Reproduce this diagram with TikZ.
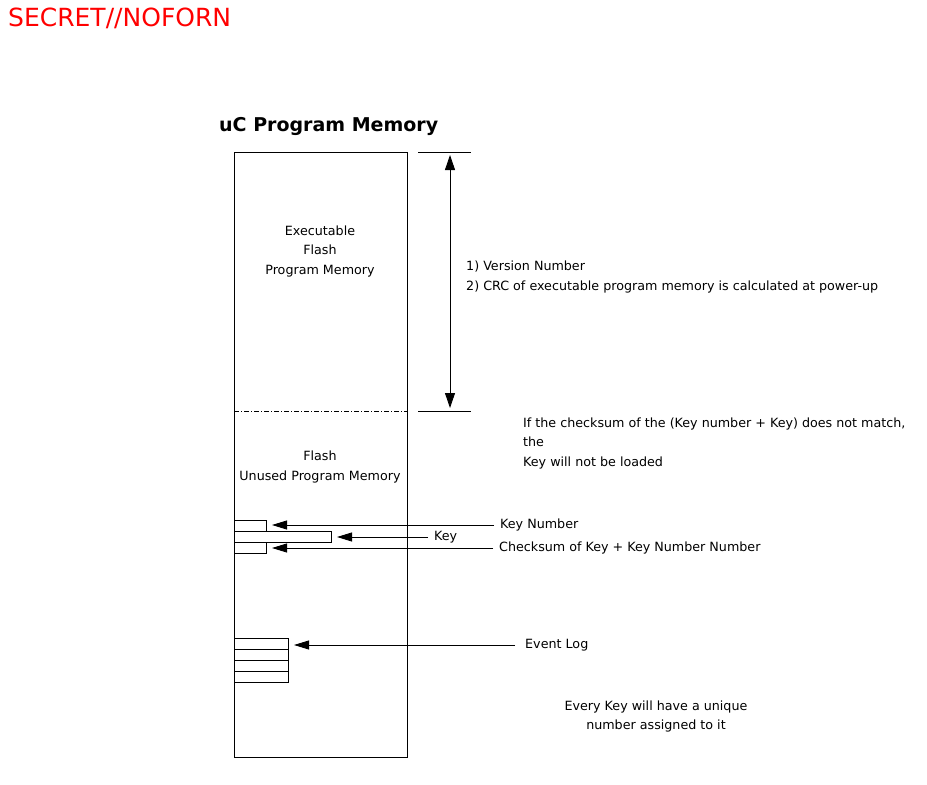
\documentclass[tikz,border=0pt]{standalone}
\usepackage{fontspec}
\setmainfont{DejaVu Sans}
\usepackage{tikz}
\usetikzlibrary{arrows.meta, positioning}
\definecolor{secretred}{HTML}{FF0000}

\begin{document}
\begin{tikzpicture}[x=1bp, y=-1bp,
  txt/.style={font=\fontsize{12.7bp}{19.5bp}\selectfont, inner sep=0pt},
  pointer/.style={draw, line width=0.9bp, -{Triangle[length=15bp, width=9bp]}},
  span/.style={draw, line width=0.9bp,
               {Triangle[length=15bp, width=10bp]}-{Triangle[length=15bp, width=10bp]}},
  cell/.style={draw, line width=0.9bp, anchor=north west, inner sep=0pt,
               outer sep=0pt, minimum height=11bp},
  divider/.style={draw, line width=0.9bp, dash pattern=on 5bp off 2bp on 1bp off 2bp},
  tick/.style={draw, line width=0.9bp},
]
  \useasboundingbox (0,0) rectangle (927,785);

  % Banner and title
  \node[txt, anchor=west, font=\fontsize{25bp}{30bp}\selectfont, text=secretred] (banner) at (8,18) {SECRET//NOFORN};
  \node[txt, anchor=west, font=\bfseries\fontsize{19bp}{23bp}\selectfont] (title) at (219,126) {uC Program Memory};

  % Program memory block
  \node[draw, line width=0.9bp, anchor=north west, inner sep=0pt, outer sep=0pt,
        minimum width=173bp, minimum height=605bp] (mem) at (234,152) {};
  \coordinate (divL) at (234,411);
  \coordinate (divR) at (407,411);
  \draw[divider] (divL) -- (divR);

  \node[txt, align=center] (execlbl) at (320,251) {Executable\\Flash\\Program Memory};
  \node[txt, align=center] (unusedlbl) at (320,467) {Flash\\Unused Program Memory};

  % Extent of executable region
  \coordinate (topA) at (418,152);
  \coordinate (topB) at (471,152);
  \coordinate (botA) at (418,411);
  \coordinate (botB) at (471,411);
  \coordinate (spanT) at (450,152);
  \coordinate (spanB) at (450,411);
  \draw[tick] (topA) -- (topB);
  \draw[tick] (botA) -- (botB);
  \draw[span, shorten <=3bp, shorten >=3bp] (spanT) -- (spanB);

  \node[txt, align=left, anchor=west] (crclbl) at (466,277)
    {1) Version Number\\2) CRC of executable program memory is calculated at power-up};
  \node[txt, align=left, anchor=west] (notelbl) at (523,443)
    {If the checksum of the (Key number + Key) does not match,\\the\\Key will not be loaded};

  % Key storage
  \node[cell, minimum width=32bp] (keynum) at (234,520) {};
  \node[cell, minimum width=97bp] (keyval) at (234,531) {};
  \node[cell, minimum width=32bp] (keysum) at (234,542) {};

  \node[txt, anchor=west] (keynumlbl) at (500,525) {Key Number};
  \node[txt, anchor=west] (keylbl) at (434,537) {Key};
  \node[txt, anchor=west] (keysumlbl) at (499,548) {Checksum of Key + Key Number Number};

  \draw[pointer, shorten <=6bp, shorten >=6bp] (keynumlbl.west) -- (keynum.east |- keynumlbl.west);
  \draw[pointer, shorten <=6bp, shorten >=6bp] (keylbl.west) -- (keyval.east |- keylbl.west);
  \draw[pointer, shorten <=6bp, shorten >=6bp] (keysumlbl.west) -- (keysum.east |- keysumlbl.west);

  % Event log
  \foreach \i in {0,...,3}
    \node[cell, minimum width=54bp] (log\i) at (234,{638+11*\i}) {};
  \node[txt, anchor=west] (loglbl) at (525,645) {Event Log};
  \draw[pointer, shorten <=10bp, shorten >=6bp] (loglbl.west) -- (log0.east |- loglbl.west);

  \node[txt, align=center] (uniquelbl) at (656,716.5) {Every Key will have a unique\\number assigned to it};
\end{tikzpicture}
\end{document}
